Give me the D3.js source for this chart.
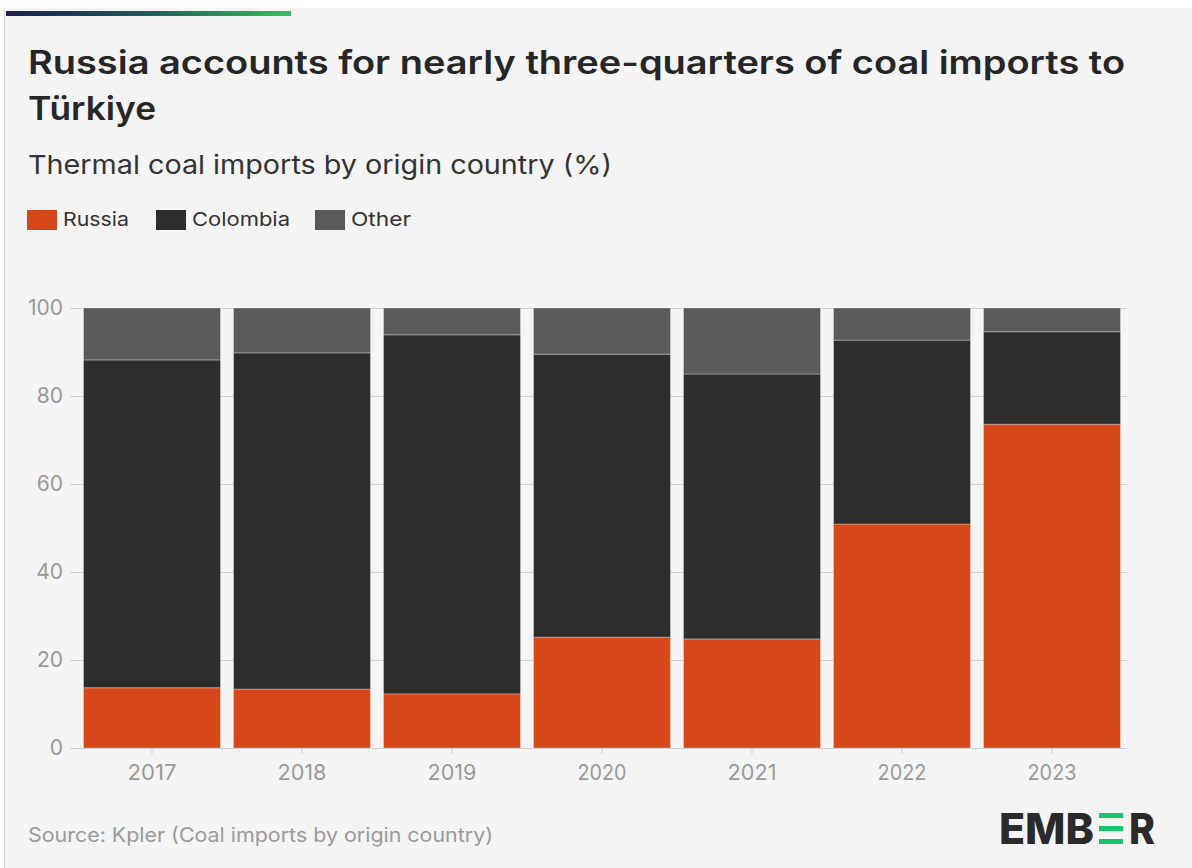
<!DOCTYPE html>
<html>
<head>
<meta charset="utf-8">
<script src="https://cdn.jsdelivr.net/npm/d3@7"></script>
<style>
  html, body { margin: 0; padding: 0; background: #ffffff; }
  svg { display: block; }
  text { font-family: Inter, "Noto Sans", sans-serif; }
</style>
</head>
<body>
<svg id="chart" width="1192" height="868"></svg>
<script>
// Thermal coal imports to Türkiye by origin country, share of total (%)
const years = ["2017", "2018", "2019", "2020", "2021", "2022", "2023"];
const russia   = [13.7, 13.4, 12.3, 25.2, 24.8, 50.9, 73.6];
const colombia = [74.5, 76.4, 81.6, 64.3, 60.2, 41.8, 21.0];
const other    = [11.8, 10.2,  6.1, 10.5, 15.0,  7.3,  5.4];
const seriesNames = ["Russia", "Colombia", "Other"];
const seriesColors = ["#d64819", "#2d2d2d", "#5a5a5a"];
const yTicks = [0, 20, 40, 60, 80, 100];

const svg = d3.select("#chart");
const W = 1192, H = 868;

// card background
svg.append("rect").attr("x", 4).attr("y", 8).attr("width", W - 4).attr("height", H - 8).attr("fill", "#f4f4f4");
svg.append("line").attr("x1", 4.5).attr("x2", 4.5).attr("y1", 8).attr("y2", H).attr("stroke", "#dcdcdc");

// brand gradient strip
const grad = svg.append("defs").append("linearGradient").attr("id", "brand").attr("x1", "0").attr("x2", "1");
grad.append("stop").attr("offset", "0").attr("stop-color", "#1d1f52");
grad.append("stop").attr("offset", "0.5").attr("stop-color", "#1f5a58");
grad.append("stop").attr("offset", "1").attr("stop-color", "#34c15f");
svg.append("rect").attr("x", 6).attr("y", 11).attr("width", 285).attr("height", 5).attr("fill", "url(#brand)");

// text helper: fixed run width so the wide brand face is approximated
function label(parent, x, y, size, weight, fill, str, len) {
  const t = parent.append("text").attr("x", x).attr("y", y).attr("font-size", size)
    .attr("font-weight", weight).attr("fill", fill).text(str);
  if (len) t.attr("textLength", len).attr("lengthAdjust", "spacingAndGlyphs");
  return t;
}

// titles
label(svg, 28, 74, 32, 600, "#262626", "Russia accounts for nearly three-quarters of coal imports to", 1097);
label(svg, 28, 120, 32, 600, "#262626", "Türkiye", 128);
label(svg, 28, 174, 26, 400, "#333", "Thermal coal imports by origin country (%)", 584);

// legend
const legendX = [27, 156, 315];
const legendLen = [66, 98, 60];
const legend = svg.append("g");
seriesNames.forEach((name, i) => {
  legend.append("rect").attr("x", legendX[i]).attr("y", 210).attr("width", 30).attr("height", 20).attr("fill", seriesColors[i]);
  label(legend, legendX[i] + 36, 226, 19, 400, "#333", name, legendLen[i]);
});

// scales
const x = d3.scaleBand().domain(years).range([77, 1127]).paddingInner(0.087).paddingOuter(0.0435);
const y = d3.scaleLinear().domain([0, 100]).range([748, 308]);

// gridlines + y axis
const yAxis = d3.axisLeft(y).tickValues(yTicks).tickSize(7).tickPadding(7);
const gy = svg.append("g").attr("transform", "translate(77,0)").call(yAxis);
gy.select(".domain").remove();
gy.selectAll(".tick line").attr("stroke", "#cfcfcf");
gy.selectAll(".tick text").attr("font-size", 21).attr("fill", "#9a9a9a").attr("font-family", "Inter, sans-serif");
svg.append("g").selectAll("line").data(yTicks).join("line")
  .attr("x1", 77).attr("x2", 1127).attr("y1", d => y(d) + 0.5).attr("y2", d => y(d) + 0.5)
  .attr("stroke", "#cfcfcf").attr("stroke-width", 1);

// stacked bars
const rows = years.map((yr, i) => ({ year: yr, Russia: russia[i], Colombia: colombia[i], Other: other[i] }));
const stack = d3.stack().keys(seriesNames)(rows);
svg.append("g").selectAll("g").data(stack).join("g")
  .attr("fill", (d, i) => seriesColors[i])
  .selectAll("rect").data(d => d).join("rect")
  .attr("x", d => x(d.data.year))
  .attr("width", x.bandwidth())
  .attr("y", d => y(d[1]))
  .attr("height", d => y(d[0]) - y(d[1]))
  .attr("stroke", "#ffffff").attr("stroke-opacity", 0.3).attr("stroke-width", 1);

// x axis
const xAxis = d3.axisBottom(x).tickSize(6).tickPadding(10);
const gx = svg.append("g").attr("transform", "translate(0,748)").call(xAxis);
gx.select(".domain").attr("stroke", "#cfcfcf").attr("d", "M77,0.5H1127");
gx.selectAll(".tick line").attr("stroke", "#cfcfcf");
gx.selectAll(".tick text").attr("font-size", 22).attr("fill", "#9a9a9a").attr("font-family", "Inter, sans-serif")
  .attr("textLength", 49).attr("lengthAdjust", "spacingAndGlyphs");

// source note
label(svg, 28, 842, 20, 400, "#9a9a9a", "Source: Kpler (Coal imports by origin country)", 465);

// EMBER wordmark
const logo = svg.append("g");
label(logo, 999, 844, 43, 800, "#2a2a2a", "EMB", 95);
[813, 826, 839].forEach(yy => {
  logo.append("rect").attr("x", 1099).attr("y", yy).attr("width", 24).attr("height", 5).attr("fill", "#19c56b");
});
label(logo, 1129, 844, 43, 800, "#2a2a2a", "R", 26);
</script>
</body>
</html>
